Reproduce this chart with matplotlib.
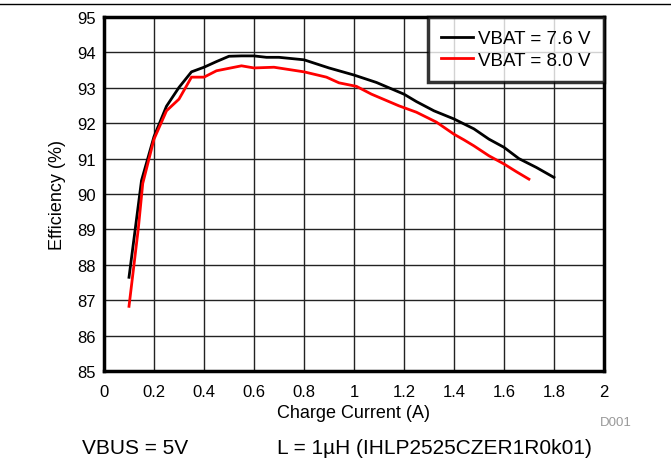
import matplotlib
matplotlib.use("Agg")
import matplotlib.pyplot as plt
from matplotlib.lines import Line2D

plt.rcParams["font.family"] = ["Liberation Sans", "DejaVu Sans"]

# VBAT = 7.6 V
cur_76 = [0.10, 0.15, 0.20, 0.25, 0.30, 0.35, 0.40, 0.45, 0.50, 0.55, 0.60, 0.65,
          0.70, 0.80, 0.90, 1.00, 1.09, 1.20, 1.25, 1.32, 1.40, 1.48, 1.54, 1.60,
          1.66, 1.73, 1.80]
eff_76 = [87.65, 90.38, 91.62, 92.48, 93.01, 93.45, 93.58, 93.74, 93.89, 93.90, 93.90, 93.86,
          93.86, 93.79, 93.56, 93.36, 93.15, 92.82, 92.61, 92.35, 92.12, 91.84, 91.55, 91.32,
          91.00, 90.75, 90.47]

# VBAT = 8.0 V
cur_80 = [0.10, 0.137, 0.155, 0.20, 0.25, 0.30, 0.35, 0.40, 0.45, 0.50, 0.55, 0.60,
          0.68, 0.80, 0.89, 0.94, 1.01, 1.07, 1.18, 1.25, 1.33, 1.40, 1.44, 1.48,
          1.54, 1.60, 1.65, 1.70]
eff_80 = [86.83, 89.01, 90.30, 91.55, 92.35, 92.68, 93.30, 93.30, 93.48, 93.55, 93.62, 93.56,
          93.58, 93.45, 93.30, 93.14, 93.04, 92.82, 92.49, 92.31, 92.03, 91.69, 91.53, 91.36,
          91.08, 90.85, 90.63, 90.42]

xticks = [0, 0.2, 0.4, 0.6, 0.8, 1, 1.2, 1.4, 1.6, 1.8, 2]
xlabels = ["0", "0.2", "0.4", "0.6", "0.8", "1", "1.2", "1.4", "1.6", "1.8", "2"]
yticks = list(range(85, 96))

fig = plt.figure(figsize=(6.71, 4.60), dpi=100)
ax = fig.add_axes([0.155, 0.191, 0.745, 0.770])

ax.plot(cur_76, eff_76, color="black", lw=2, label="VBAT = 7.6 V", zorder=3)
ax.plot(cur_80, eff_80, color="#ff0000", lw=2, label="VBAT = 8.0 V", zorder=3)

ax.set_xlim(0, 2)
ax.set_ylim(85, 95)
ax.set_xticks(xticks)
ax.set_xticklabels(xlabels)
ax.set_yticks(yticks)
ax.grid(True, color="#222222", lw=1)
ax.tick_params(axis="x", length=0, labelsize=12, pad=9)
ax.tick_params(axis="y", length=0, labelsize=12, pad=6)
for s in ax.spines.values():
    s.set_linewidth(2.5)
    s.set_color("black")

ax.set_xlabel("Charge Current (A)", fontsize=13, labelpad=4)
ax.set_ylabel("Efficiency (%)", fontsize=13, labelpad=8)

leg = ax.legend(loc="upper right", fontsize=13.5, frameon=True, fancybox=False,
                borderaxespad=0, handlelength=1.7, handletextpad=0.3,
                borderpad=0.7, labelspacing=0.25)
leg.get_frame().set_edgecolor("black")
leg.get_frame().set_linewidth(2.5)

# top rule across the figure
fig.add_artist(Line2D([0, 1], [0.990, 0.990], color="black", lw=1))

fig.text(0.894, 0.080, "D001", fontsize=9.5, color="#999999", ha="left", va="center")
fig.text(0.122, 0.026, "VBUS = 5V", fontsize=15, ha="left", va="center")
fig.text(0.413, 0.026, "L = 1µH (IHLP2525CZER1R0k01)", fontsize=15, ha="left", va="center")

fig.savefig("out.png", dpi=100)
